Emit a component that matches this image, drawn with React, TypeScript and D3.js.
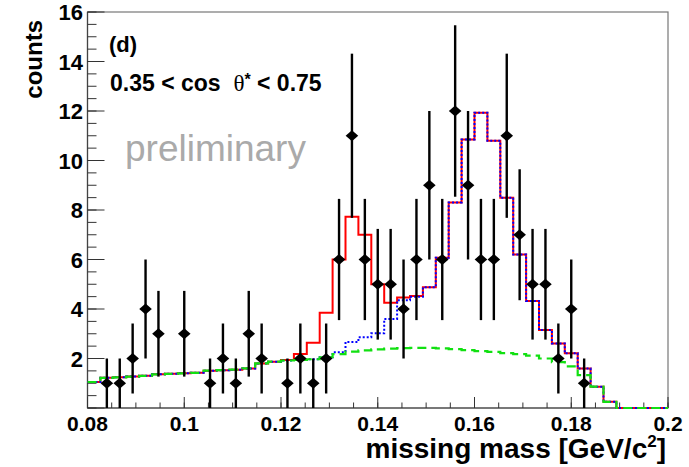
import React from "react";
import * as d3 from "d3";

// ---- data ----
const binLow = 0.08;
const binHigh = 0.2;
const nBins = 45;

const dataCounts = [
  0, 1, 1, 2, 4, 3, 0, 3, 0, 1,
  2, 1, 3, 2, 0, 1, 2, 1, 2, 6,
  11, 6, 5, 5, 4, 6, 9, 6, 12, 9,
  6, 6, 11, 7, 5, 5, 2, 4, 1, 0,
  0, 0, 0, 0, 0,
];

const totalFit = [
  1.05, 1.22, 1.24, 1.27, 1.3, 1.36, 1.38, 1.4, 1.42, 1.51,
  1.53, 1.55, 1.6, 1.8, 1.87, 1.94, 2.18, 2.64, 3.85, 6.0,
  7.73, 7.0, 5.0, 4.25, 4.46, 4.53, 4.88, 6.07, 8.3, 10.85,
  11.93, 10.8, 8.5, 6.2, 4.32, 3.15, 2.61, 2.21, 1.6, 0.86,
  0.25, 0, 0, 0, 0,
];

const blueFit = [
  1.05, 1.22, 1.24, 1.27, 1.3, 1.36, 1.38, 1.4, 1.42, 1.51,
  1.53, 1.55, 1.6, 1.8, 1.87, 1.92, 1.94, 1.97, 2.05, 2.25,
  2.67, 2.86, 3.02, 3.6, 4.35, 4.5, 4.88, 6.07, 8.3, 10.85,
  11.93, 10.8, 8.5, 6.2, 4.32, 3.15, 2.61, 2.21, 1.6, 0.86,
  0.25, 0, 0, 0, 0,
];

const greenFit = [
  1.05, 1.22, 1.24, 1.27, 1.3, 1.36, 1.38, 1.4, 1.42, 1.51,
  1.53, 1.55, 1.6, 1.8, 1.87, 1.92, 1.94, 1.97, 2.05, 2.18,
  2.28, 2.33, 2.37, 2.4, 2.42, 2.43, 2.43, 2.41, 2.38, 2.34,
  2.3, 2.27, 2.22, 2.18, 2.12, 2.0, 1.85, 1.68, 1.33, 0.86,
  0.25, 0, 0, 0, 0,
];

const xMajorTicks = [0.08, 0.1, 0.12, 0.14, 0.16, 0.18, 0.2];
const xTickLabels = ["0.08", "0.1", "0.12", "0.14", "0.16", "0.18", "0.2"];
const yMajorTicks = [0, 2, 4, 6, 8, 10, 12, 14, 16];
const yTickLabels = ["0", "2", "4", "6", "8", "10", "12", "14", "16"];

// ---- layout ----
const W = 689;
const H = 467;
const L = 87.5, R = 668, T = 12, B = 408;
const FONT = "'Liberation Sans', Arial, Helvetica, sans-serif";

const x = d3.scaleLinear().domain([binLow, binHigh]).range([L, R]);
const y = d3.scaleLinear().domain([0, 16]).range([B, T]);
const binW = (binHigh - binLow) / nBins;
const edge = (i: number) => binLow + i * binW;
const center = (i: number) => binLow + (i + 0.5) * binW;

function histPath(vals: number[]) {
  const pts: [number, number][] = vals.map((v, i) => [edge(i), v]);
  pts.push([edge(vals.length), vals[vals.length - 1]]);
  const line = d3
    .line<[number, number]>()
    .x((d) => x(d[0]))
    .y((d) => y(d[1]))
    .curve(d3.curveStepAfter);
  return line(pts) || "";
}

export default function App() {
  React.useEffect(() => {
    document.body.style.margin = "0";
  }, []);

  const xMinor = d3.range(0, 25).map((k) => binLow + k * 0.005);
  const yMinor = d3.range(0, 33).map((k) => k * 0.5);

  return (
    <svg width={W} height={H} style={{ display: "block", background: "#fff" }}>
      <rect x={0} y={0} width={W} height={H} fill="#fff" />

      {/* frame */}
      <rect x={L} y={T} width={R - L} height={B - T} fill="none" stroke="#777" strokeWidth={1.2} />
      <line x1={L} x2={L} y1={T} y2={B} stroke="#444" strokeWidth={1.2} />
      <line x1={L} x2={R} y1={B} y2={B} stroke="#444" strokeWidth={1.2} />

      {/* x ticks */}
      {xMinor.map((v, i) => (
        <line key={"xm" + i} x1={x(v)} x2={x(v)} y1={B} y2={B - 5.5} stroke="#333" strokeWidth={1} />
      ))}
      {xMajorTicks.map((v, i) => (
        <line key={"xM" + i} x1={x(v)} x2={x(v)} y1={B} y2={B - 11} stroke="#333" strokeWidth={1} />
      ))}
      {yMinor.map((v, i) => (
        <line key={"ym" + i} x1={L} x2={L + 9} y1={y(v)} y2={y(v)} stroke="#333" strokeWidth={1} />
      ))}
      {yMajorTicks.map((v, i) => (
        <line key={"yM" + i} x1={L} x2={L + 17} y1={y(v)} y2={y(v)} stroke="#333" strokeWidth={1} />
      ))}

      {/* histograms */}
      <path d={histPath(totalFit)} fill="none" stroke="#ff0000" strokeWidth={2} />
      <path d={histPath(blueFit)} fill="none" stroke="#0000ff" strokeWidth={2} strokeDasharray="2,2" />
      <path d={histPath(greenFit)} fill="none" stroke="#11e011" strokeWidth={2.2} strokeDasharray="9,5" />

      {/* data points */}
      {dataCounts.map((n, i) => {
        if (n <= 0) return null;
        const cx = x(center(i));
        const cy = y(n);
        const e = Math.sqrt(n);
        return (
          <g key={"d" + i}>
            <line x1={cx} x2={cx} y1={y(n + e)} y2={y(Math.max(0, n - e))} stroke="#000" strokeWidth={2.4} />
            <path
              d={`M${cx - 6.3},${cy} L${cx},${cy - 5.5} L${cx + 6.3},${cy} L${cx},${cy + 5.5} Z`}
              fill="#000"
            />
          </g>
        );
      })}

      {/* tick labels */}
      {xMajorTicks.map((v, i) => (
        <text key={"xl" + i} x={x(v)} y={431} textAnchor="middle" fontFamily={FONT} fontWeight="bold" fontSize={21} fill="#000">
          {xTickLabels[i]}
        </text>
      ))}
      {yMajorTicks.map((v, i) =>
        v === 0 ? null : (
          <text key={"yl" + i} x={83} y={y(v) + 8} textAnchor="end" fontFamily={FONT} fontWeight="bold" fontSize={22} fill="#000">
            {yTickLabels[i]}
          </text>
        )
      )}

      {/* axis titles */}
      <text x={666} y={458} textAnchor="end" fontFamily={FONT} fontWeight="bold" fontSize={28} fill="#000">
        missing mass [GeV/c<tspan fontSize={17} dy={-11}>2</tspan><tspan dy={11}>]</tspan>
      </text>
      <text transform="translate(42,20) rotate(-90)" textAnchor="end" fontFamily={FONT} fontWeight="bold" fontSize={24} fill="#000">
        counts
      </text>

      {/* annotations */}
      <text x={109} y={52} fontFamily={FONT} fontWeight="bold" fontSize={22} fill="#000">(d)</text>
      <text x={110} y={91} fontFamily={FONT} fontWeight="bold" fontSize={23} fill="#000" xmlSpace="preserve">
        {"0.35 < cos  "}
        <tspan fontFamily="'Liberation Serif', 'DejaVu Serif', serif" fontWeight="normal">θ</tspan>
        <tspan fontSize={16} dy={-6}>*</tspan>
        <tspan dy={6}>{" < 0.75"}</tspan>
      </text>
      <text x={125} y={161} fontFamily={FONT} fontSize={37} fill="#aaaaaa">preliminary</text>
    </svg>
  );
}
